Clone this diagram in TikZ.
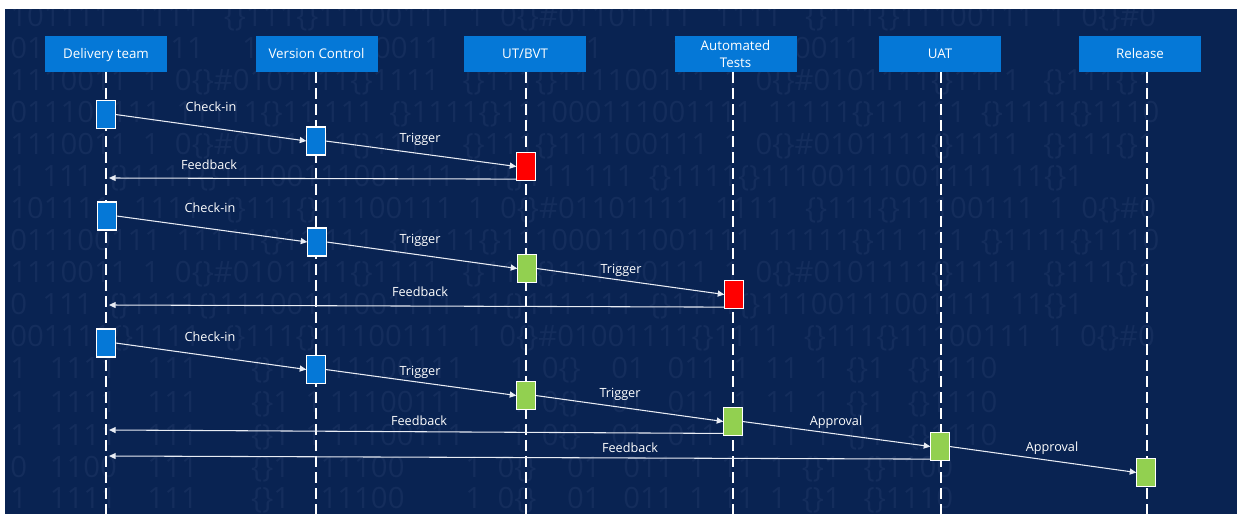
\documentclass[tikz,border=0pt]{standalone}
\usepackage{fontspec}
\setmainfont{Open Sans}
\usetikzlibrary{arrows.meta}

\definecolor{navy}{RGB}{9,35,82}
\definecolor{codeink}{RGB}{20,45,92}
\definecolor{hdrblue}{RGB}{5,120,215}
\definecolor{okgreen}{RGB}{146,208,80}
\definecolor{failred}{RGB}{255,0,0}
\definecolor{wire}{RGB}{232,236,244}

\begin{document}
\begin{tikzpicture}[x=0.75pt,y=-0.75pt,
  header/.style={fill=hdrblue, text=white, minimum width=91.5pt, minimum height=27pt,
    inner sep=0pt, align=center, font=\fontsize{10}{12.5}\selectfont},
  oneline/.style={text height=7.2pt, text depth=0pt},
  lifeline/.style={white, line width=2.2pt, dash pattern=on 8pt off 4pt},
  act/.style={fill=#1, draw=white, line width=0.9pt, minimum width=13.5pt,
    minimum height=20pt, inner sep=0pt},
  msg/.style={wire, line width=0.8pt, -{Triangle[length=5pt,width=4.5pt]}},
  lbl/.style={text=white, font=\fontsize{9.5}{11}\selectfont, inner sep=0pt,
    text height=7.2pt, text depth=0pt},
  code/.style={text=codeink, font=\fontsize{22}{22}\selectfont, anchor=west, inner sep=0pt}
]
% page and dark backdrop
\useasboundingbox (0,0) rectangle (1237,514);
\fill[white] (0,0) rectangle (1237,514);
\fill[navy] (5,9) rectangle (1237,514);

% faint code texture
\begin{scope}
\clip (5,9) rectangle (1237,514);
\node[code] (c01) at (10,18)  {101111~~~1111~~~\{\}111\{\}11100111~~1~~0\{\}\#01101111~~~1111~~~\{\}111\{\}11100111~~1~~0\{\}\#0};
\node[code] (c02) at (10,50)  {01~~~~~~~~~~11111~~~~~1~~~~~~\{\}~~~~00011~~~~1~~~~11111~~~~~~~~~1~~~~~\{\}~~~~~~0011};
\node[code] (c03) at (10,82)  {1110011~~1~~0\{\}\#0101111\{\}1111~~~\{\}111\{\}111100111~~1~~0\{\}\#0101111\{\}1111~~~\{\}111\{\}1};
\node[code] (c04) at (10,114) {011100111~~11111\{\}11~111~~\{\}1111\{\}111000111001111~~11111\{\}11~111~~\{\}1111\{\}1110};
\node[code] (c05) at (10,146) {1110011~~1~~0\{\}\#0101111\{\}1111~~~\{\}111\{\}111100111~~1~~0\{\}\#0101111\{\}1111~~~\{\}111\{\}1};
\node[code] (c06) at (10,178) {1~~111~~\{\}1111\{\}11100111001111~~11\{\}111~111~~\{\}1111\{\}11100111001111~~11\{\}1};
\node[code] (c07) at (10,210) {101111~~~1111~~~\{\}111\{\}11100111~~1~~0\{\}\#01101111~~~1111~~~\{\}111\{\}11100111~~1~~0\{\}\#0};
\node[code] (c08) at (10,242) {011100111~~11111\{\}11~111~~\{\}1111\{\}111000111001111~~11111\{\}11~111~~\{\}1111\{\}1110};
\node[code] (c09) at (10,274) {1110011~~1~~0\{\}\#0101111\{\}1111~~~\{\}111\{\}111100111~~1~~0\{\}\#0101111\{\}1111~~~\{\}111\{\}1};
\node[code] (c10) at (10,306) {0~~111~~\{\}1111\{\}11100111001111~~11\{\}111~111~~\{\}1111\{\}11100111001111~~11\{\}1};
\node[code] (c11) at (10,338) {001111\{\}1111~~~\{\}111\{\}11100111~~1~~0\{\}\#01001111\{\}1111~~~\{\}111\{\}11100111~~1~~0\{\}\#0};
\node[code] (c12) at (10,370) {1~~~1111~~~~111~~~~~~~\{\}1~~1~11100111~~~~~~1~~0\{\}~~~~01~~~011~~1~~11~~1~~\{\}1~~~\{\}1110};
\node[code] (c13) at (10,404) {1~~~1111~~~~111~~~~~~~\{\}1~~1~11100111~~~~~~1~~0\{\}~~~~01~~~011~~1~~11~~1~~\{\}1~~~\{\}1110};
\node[code] (c14) at (10,437) {1~~~1111~~~~111~~~~~~~\{\}1~~1~11100111~~~~~~1~~0\{\}~~~~01~~~011~~1~~11~~1~~\{\}1~~~\{\}1110};
\node[code] (c15) at (10,469) {0~~~1100~~~~111~~~~~~~\{\}1~~~~11100~~~~~~~~1~~0\{\}~~~~01~~~011~~1~~11~~1~~\{\}1~~~\{\}1100};
\node[code] (c16) at (10,500) {1~~~1111~~~~111~~~~~~~\{\}1~~~~11100~~~~~~~~1~~0\{\}~~~~01~~~011~~1~~11~~1~~\{\}1~~~\{\}1110};
\end{scope}

% participants
\node[header,oneline] (dt)  at (106,54)    {Delivery team};
\node[header,oneline] (vc)  at (316.5,54)  {Version Control};
\node[header,oneline] (ut)  at (525,54)    {UT/BVT};
\node[header]         (at)  at (735.5,54)  {Automated\\Tests};
\node[header,oneline] (uat) at (940,54)    {UAT};
\node[header,oneline] (rel) at (1140,54)   {Release};

% lifeline ends
\coordinate (dtE)  at (106,514);
\coordinate (vcE)  at (316,514);
\coordinate (utE)  at (526,514);
\coordinate (atE)  at (733,514);
\coordinate (uatE) at (941,514);
\coordinate (relE) at (1147,514);

\draw[lifeline] (dt.south  -| dtE)  -- (dtE);
\draw[lifeline] (vc.south  -| vcE)  -- (vcE);
\draw[lifeline] (ut.south  -| utE)  -- (utE);
\draw[lifeline] (at.south  -| atE)  -- (atE);
\draw[lifeline] (uat.south -| uatE) -- (uatE);
\draw[lifeline] (rel.south -| relE) -- (relE);

% activations, first round
\node[act=hdrblue] (d1) at (106,114.5) {};
\node[act=hdrblue] (v1) at (316,141)   {};
\node[act=failred] (u1) at (526,166.5) {};
% second round
\node[act=hdrblue] (d2) at (107,216)   {};
\node[act=hdrblue] (v2) at (317,242)   {};
\node[act=okgreen] (u2) at (527,268.5) {};
\node[act=failred] (t2) at (734,294.5) {};
% third round
\node[act=hdrblue] (d3) at (106,343)   {};
\node[act=hdrblue] (v3) at (316,369.5) {};
\node[act=okgreen] (u3) at (526,395.5) {};
\node[act=okgreen] (t3) at (733,421.5) {};
\node[act=okgreen] (a3) at (940,446.5) {};
\node[act=okgreen] (r3) at (1146,472.5) {};

% feedback targets on the delivery lifeline
\coordinate (f1) at (109,178);
\coordinate (f2) at (109,305);
\coordinate (f3) at (109,430);
\coordinate (f4) at (109,456);

% messages
\draw[msg] (d1.east) -- (v1.west);
\draw[msg] (v1.east) -- (u1.west);
\draw[msg] ([yshift=1pt]u1.south west) -- (f1);

\draw[msg] (d2.east) -- (v2.west);
\draw[msg] (v2.east) -- (u2.west);
\draw[msg] (u2.east) -- (t2.west);
\draw[msg] ([yshift=1pt]t2.south west) -- (f2);

\draw[msg] (d3.east) -- (v3.west);
\draw[msg] (v3.east) -- (u3.west);
\draw[msg] (u3.east) -- (t3.west);
\draw[msg] (t3.east) -- (a3.west);
\draw[msg] (a3.east) -- (r3.west);
\draw[msg] ([yshift=1.5pt]t3.south west) -- (f3);
\draw[msg] ([yshift=1pt]a3.south west) -- (f4);

% activation boxes stay on top of the message lines
\foreach \b/\c in {d1/hdrblue,v1/hdrblue,u1/failred,d2/hdrblue,v2/hdrblue,u2/okgreen,t2/failred,
                   d3/hdrblue,v3/hdrblue,u3/okgreen,t3/okgreen,a3/okgreen,r3/okgreen}
  \draw[fill=\c, draw=white, line width=0.9pt] (\b.south west) rectangle (\b.north east);

% message labels
\node[lbl] (l1)  at (211,107) {Check-in};
\node[lbl] (l2)  at (420,138) {Trigger};
\node[lbl] (l3)  at (209,165) {Feedback};
\node[lbl] (l4)  at (210,208) {Check-in};
\node[lbl] (l5)  at (420,239) {Trigger};
\node[lbl] (l6)  at (621,269) {Trigger};
\node[lbl] (l7)  at (420,292) {Feedback};
\node[lbl] (l8)  at (210,337) {Check-in};
\node[lbl] (l9)  at (420,371) {Trigger};
\node[lbl] (l10) at (620,393) {Trigger};
\node[lbl] (l11) at (836,421) {Approval};
\node[lbl] (l12) at (1052,447) {Approval};
\node[lbl] (l13) at (419,421) {Feedback};
\node[lbl] (l14) at (630,448) {Feedback};
\end{tikzpicture}
\end{document}
